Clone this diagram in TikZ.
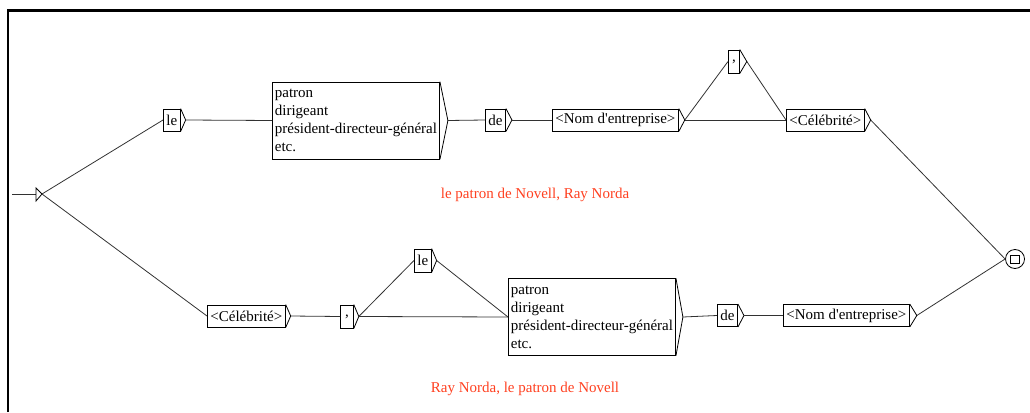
\documentclass[tikz,border=0pt]{standalone}
\usepackage{fontspec}
\setmainfont{Liberation Serif}[Ligatures=TeXOff]
\definecolor{ured}{RGB}{255,64,32}
\definecolor{uline}{RGB}{50,50,50}
\newcommand\brk[2]{\draw[boxline] (#1.north east) -- ([xshift=#2pt]#1.east) coordinate (#1-o) -- (#1.south east);}
\tikzset{
  boxline/.style={draw=black, line width=0.8pt},
  box/.style={draw=black, line width=0.8pt, anchor=west, inner xsep=3pt, inner ysep=0pt,
    minimum height=22pt, font=\fontsize{15}{18}\selectfont},
  bigbox/.style={box, align=left, inner xsep=2.5pt, minimum height=77pt},
  conn/.style={draw=uline, line width=0.8pt},
  example/.style={text=ured, font=\fontsize{15}{18}\selectfont, inner sep=0pt}
}
\begin{document}
\begin{tikzpicture}[x=1pt,y=-1pt]
\useasboundingbox (0,0) rectangle (1030,412);
% frame
\draw[line width=2.6pt] (8,412) -- (8,10.5) -- (1030,10.5);
% initial state
\coordinate (start) at (12,194);
\coordinate (init) at (42,194);
\draw[conn] (start) -- (36,194);
\draw[boxline, fill=white] (36,188) -- (init) -- (36,201) -- cycle;
% top path
\node[box] (le1) at (163,120) {le}; \brk{le1}{5}
\node[bigbox] (big1) at (272,120.5) {patron\\dirigeant\\président-directeur-général\\etc.}; \brk{big1}{8}
\node[box] (de1) at (485,120) {de}; \brk{de1}{6}
\node[box] (nom1) at (552,120) {<Nom d'entreprise>}; \brk{nom1}{6}
\node[box, minimum width=11pt, minimum height=23pt] (comma1) at (728,61.5) {,}; \brk{comma1}{7}
\node[box] (cel1) at (786,120) {<Célébrité>}; \brk{cel1}{6}
% bottom path
\node[box] (cel2) at (207,316) {<Célébrité>}; \brk{cel2}{5}
\node[box, minimum width=13pt, minimum height=23pt] (comma2) at (340,316.5) {,}; \brk{comma2}{5}
\node[box, minimum height=23pt] (le2) at (414,260.5) {le}; \brk{le2}{5}
\node[bigbox] (big2) at (508,317) {patron\\dirigeant\\président-directeur-général\\etc.}; \brk{big2}{7}
\node[box] (de2) at (717,315.5) {de}; \brk{de2}{6}
\node[box] (nom2) at (783,315.5) {<Nom d'entreprise>}; \brk{nom2}{7}
% final state
\node[draw=black, line width=0.8pt, circle, minimum size=19pt, inner sep=0pt] (fin) at (1015,259) {};
\draw[boxline] (1010.5,255) rectangle (1019.5,263.5);
% connectors
\draw[conn] (init) -- (le1.west);
\draw[conn] (init) -- (cel2.west);
\draw[conn] (le1-o) -- (big1.west);
\draw[conn] (big1-o) -- (de1.west);
\draw[conn] (de1-o) -- (nom1.west);
\draw[conn] (nom1-o) -- (comma1.west);
\draw[conn] (nom1-o) -- (cel1.west);
\draw[conn] (comma1-o) -- (cel1.west);
\draw[conn] (cel1-o) -- (fin.west);
\draw[conn] (cel2-o) -- (comma2.west);
\draw[conn] (comma2-o) -- (le2.west);
\draw[conn] (comma2-o) -- (big2.west);
\draw[conn] (le2-o) -- (big2.west);
\draw[conn] (big2-o) -- (de2.west);
\draw[conn] (de2-o) -- (nom2.west);
\draw[conn] (nom2-o) -- (fin.west);
% examples
\node[example] (ex1) at (535,195) {le patron de Novell, Ray Norda};
\node[example] (ex2) at (525,389) {Ray Norda, le patron de Novell};
\end{tikzpicture}
\end{document}
